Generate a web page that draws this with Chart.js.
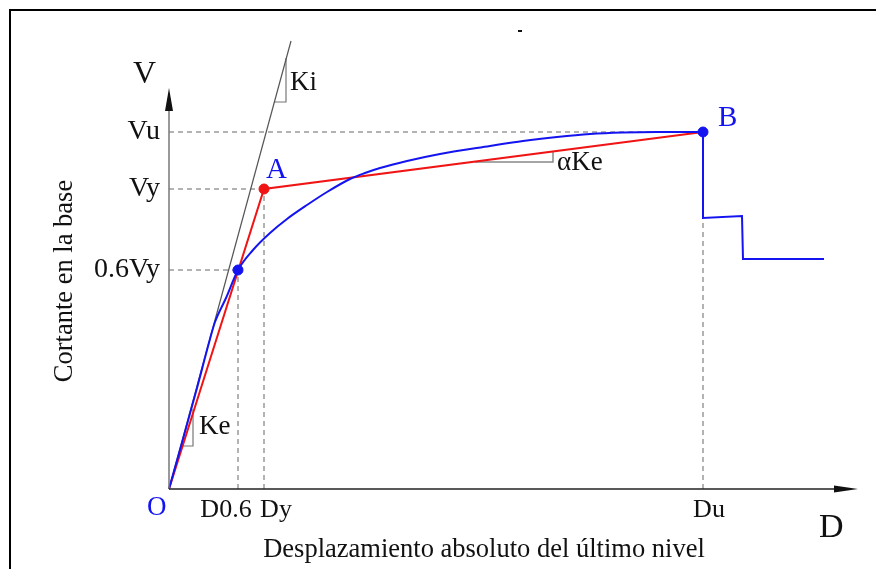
<!DOCTYPE html>
<html>
<head>
<meta charset="utf-8">
<script src="https://cdn.jsdelivr.net/npm/chart.js@4"></script>
<style>
  body { margin: 0; background: #fff; }
  canvas { display: block; }
</style>
</head>
<body>
<canvas id="pushoverChart" width="876" height="569"></canvas>
<script>
// capacity curve (blue)
const curveD = [0, 14, 28, 41, 46, 57, 69, 84, 101, 118, 138, 158, 181, 196, 211, 238, 271, 321, 354, 388, 421, 454, 488, 534];
const curveV = [0, 50, 101, 150, 167, 191, 219, 239, 256, 270, 284, 297, 310, 316, 321, 328, 335, 343, 348, 352, 355, 356.5, 357, 357];

// strength drop after Du
const dropD = [534, 534, 573, 574, 655];
const dropV = [357, 271, 273, 230, 230];

// bilinear idealisation O - A - B (red)
const bilinearD = [0, 95, 534];
const bilinearV = [0, 300, 357];

// initial stiffness line Ki
const kiD = [0, 122];
const kiV = [0, 448];

// slope markers
const kiTriD = [105, 117, 117];
const kiTriV = [387, 387, 431];
const keTriD = [14, 24, 24];
const keTriV = [43, 43, 80];
const aKeTriD = [306, 384, 384];
const aKeTriV = [327, 327, 337];

// reference values and their labels
const xTickValues = [69, 95, 534];
const xTickLabels = ['D0.6', 'Dy', 'Du'];
const yTickValues = [219, 300, 357];
const yTickLabels = ['0.6Vy', 'Vy', 'Vu'];

const BLUE = '#1414f0';
const RED = '#f01414';
const SERIF = '"Liberation Serif", "Times New Roman", serif';

function pts(xs, ys) {
    return xs.map((x, i) => ({ x: x, y: ys[i] }));
}

function line(data, color, width, extra) {
    return Object.assign({
        data: data,
        showLine: true,
        borderColor: color,
        borderWidth: width,
        pointRadius: 0,
        fill: false
    }, extra || {});
}

// dashed guide lines from the axes to each reference value
const guides = [];
guides.push(line(pts([0, bilinearD[2]], [yTickValues[2], yTickValues[2]]), '#666', 1, { borderDash: [5, 4] }));
guides.push(line(pts([0, xTickValues[1]], [yTickValues[1], yTickValues[1]]), '#666', 1, { borderDash: [5, 4] }));
guides.push(line(pts([0, xTickValues[0]], [yTickValues[0], yTickValues[0]]), '#666', 1, { borderDash: [5, 4] }));
guides.push(line(pts([xTickValues[0], xTickValues[0]], [0, yTickValues[0]]), '#666', 1, { borderDash: [5, 4] }));
guides.push(line(pts([xTickValues[1], xTickValues[1]], [0, yTickValues[1]]), '#666', 1, { borderDash: [5, 4] }));
guides.push(line(pts([xTickValues[2], xTickValues[2]], [0, yTickValues[2]]), '#666', 1, { borderDash: [5, 4] }));

const diagramLabels = {
    id: 'diagramLabels',
    beforeDraw(chart) {
        const ctx = chart.ctx;
        ctx.save();
        ctx.fillStyle = '#fff';
        ctx.fillRect(0, 0, chart.width, chart.height);
        // frame
        ctx.strokeStyle = '#000';
        ctx.lineWidth = 2;
        ctx.strokeRect(10, 10, chart.width + 20, chart.height + 20);
        ctx.restore();
    },
    afterDraw(chart) {
        const ctx = chart.ctx;
        const xs = chart.scales.x;
        const ys = chart.scales.y;
        const ox = xs.getPixelForValue(0);
        const oy = ys.getPixelForValue(0);
        ctx.save();

        // y axis with arrow
        ctx.strokeStyle = '#777';
        ctx.lineWidth = 1.5;
        ctx.beginPath();
        ctx.moveTo(ox, oy);
        ctx.lineTo(ox, 100);
        ctx.stroke();
        ctx.fillStyle = '#111';
        ctx.beginPath();
        ctx.moveTo(ox, 88);
        ctx.lineTo(ox - 4, 111);
        ctx.lineTo(ox + 4, 111);
        ctx.closePath();
        ctx.fill();

        // x axis with arrow
        ctx.strokeStyle = '#222';
        ctx.beginPath();
        ctx.moveTo(ox, oy);
        ctx.lineTo(845, oy);
        ctx.stroke();
        ctx.beginPath();
        ctx.moveTo(858, oy);
        ctx.lineTo(834, oy - 3.5);
        ctx.lineTo(834, oy + 3.5);
        ctx.closePath();
        ctx.fill();

        ctx.fillStyle = '#111';
        ctx.textBaseline = 'alphabetic';

        // y reference labels
        ctx.font = '28px ' + SERIF;
        ctx.textAlign = 'right';
        yTickValues.forEach((v, i) => {
            ctx.fillText(yTickLabels[i], ox - 9, ys.getPixelForValue(v) + 7);
        });

        // x reference labels
        const xShift = [-12, 12, 6];
        ctx.font = '26px ' + SERIF;
        ctx.textAlign = 'center';
        xTickValues.forEach((v, i) => {
            ctx.fillText(xTickLabels[i], xs.getPixelForValue(v) + xShift[i], oy + 28);
        });

        // axis letters
        ctx.textAlign = 'left';
        ctx.font = '32px ' + SERIF;
        ctx.fillText('V', 133, 83);
        ctx.font = '34px ' + SERIF;
        ctx.fillText('D', 819, 537);

        // stiffness labels
        ctx.font = '27px ' + SERIF;
        ctx.fillText('Ki', xs.getPixelForValue(kiTriD[2]) + 4, ys.getPixelForValue(kiTriV[0]) - 12);
        ctx.fillText('Ke', xs.getPixelForValue(keTriD[2]) + 6, ys.getPixelForValue(keTriV[0]) - 12);
        ctx.fillText('\u03b1Ke', xs.getPixelForValue(aKeTriD[2]) + 4, ys.getPixelForValue(aKeTriV[0]) + 8);

        // point names
        ctx.fillStyle = BLUE;
        ctx.font = '29px ' + SERIF;
        ctx.fillText('A', xs.getPixelForValue(bilinearD[1]) + 2, ys.getPixelForValue(bilinearV[1]) - 11);
        ctx.fillText('B', xs.getPixelForValue(bilinearD[2]) + 15, ys.getPixelForValue(bilinearV[2]) - 6);
        ctx.font = '27px ' + SERIF;
        ctx.fillText('O', ox - 22, oy + 26);

        // axis titles
        ctx.fillStyle = '#111';
        ctx.font = '26.5px ' + SERIF;
        ctx.textAlign = 'center';
        ctx.fillText('Desplazamiento absoluto del \u00faltimo nivel', 484, 557);
        ctx.save();
        ctx.translate(72, 281);
        ctx.rotate(-Math.PI / 2);
        ctx.fillText('Cortante en la base', 0, 0);
        ctx.restore();

        // small stray mark at the top
        ctx.fillRect(518, 30, 4, 2);

        ctx.restore();
    }
};

document.addEventListener('DOMContentLoaded', function () {
    const ctx = document.getElementById('pushoverChart').getContext('2d');
    new Chart(ctx, {
        type: 'scatter',
        data: {
            datasets: [
                {
                    data: [{ x: xTickValues[0], y: yTickValues[0] }, { x: bilinearD[2], y: bilinearV[2] }],
                    backgroundColor: BLUE,
                    borderColor: BLUE,
                    pointRadius: 5,
                    showLine: false
                },
                {
                    data: [{ x: bilinearD[1], y: bilinearV[1] }],
                    backgroundColor: RED,
                    borderColor: RED,
                    pointRadius: 5,
                    showLine: false
                },
                line(pts(curveD, curveV), BLUE, 2, { cubicInterpolationMode: 'monotone' }),
                line(pts(dropD, dropV), BLUE, 2),
                line(pts(bilinearD, bilinearV), RED, 2),
                line(pts(kiD, kiV), '#555', 1.2),
                line(pts(kiTriD, kiTriV), '#777', 1.2),
                line(pts(keTriD, keTriV), '#777', 1.2),
                line(pts(aKeTriD, aKeTriV), '#888', 1.5)
            ].concat(guides)
        },
        options: {
            responsive: false,
            animation: false,
            layout: { padding: 0, autoPadding: false },
            plugins: {
                legend: { display: false },
                tooltip: { enabled: false }
            },
            scales: {
                x: { type: 'linear', min: -169, max: 707, display: false },
                y: { type: 'linear', min: -80, max: 489, display: false }
            }
        },
        plugins: [diagramLabels]
    });
});
</script>
</body>
</html>
